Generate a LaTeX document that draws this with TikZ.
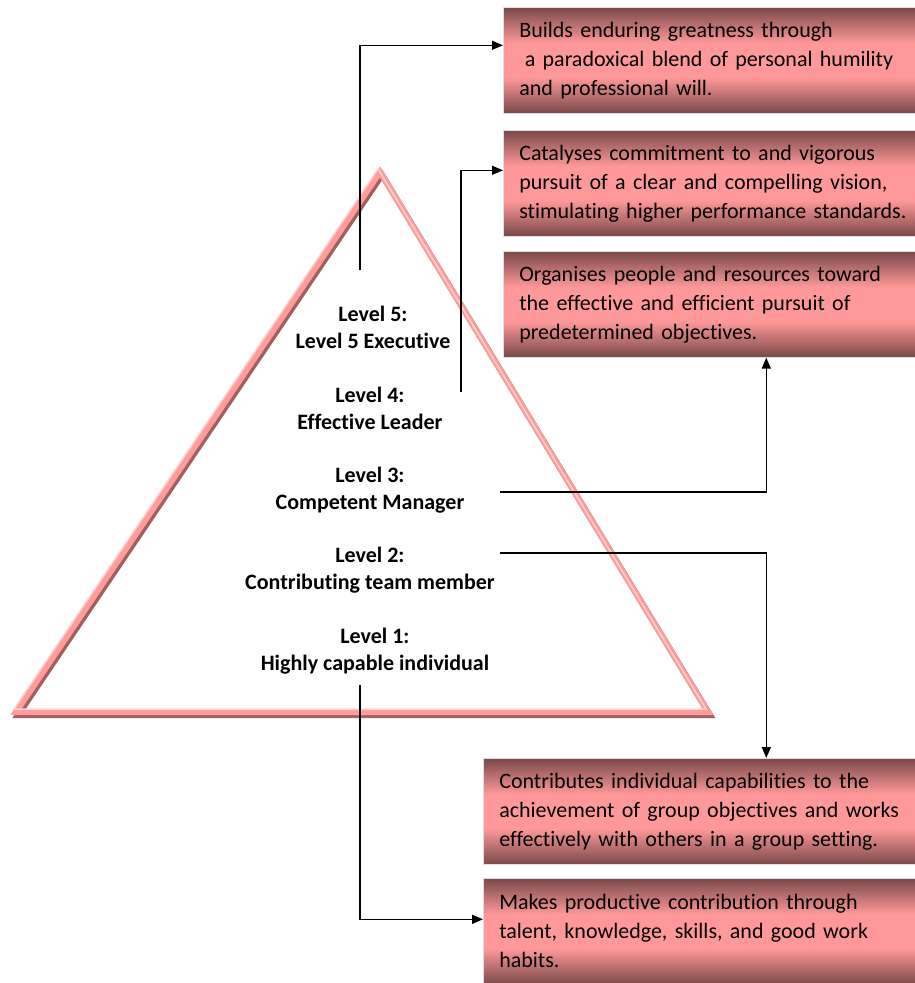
\documentclass[tikz,border=0pt]{standalone}
\usepackage{fontspec}
\setmainfont{Carlito}[Ligatures=NoCommon]
\usetikzlibrary{arrows.meta}
\definecolor{boxdark}{HTML}{7A4848}
\definecolor{boxpink}{HTML}{FF9999}
\definecolor{tripink}{HTML}{FF9C9C}
\definecolor{trishade}{HTML}{A35E5E}
\definecolor{trilight}{HTML}{FFD2D2}
\pgfdeclareverticalshading{descshade}{100bp}{color(0bp)=(boxdark); color(25bp)=(boxdark); color(42bp)=(boxpink); color(58bp)=(boxpink); color(75bp)=(boxdark); color(100bp)=(boxdark)}

\tikzset{
  desc/.style={shading=descshade, draw=gray!25, line width=0.6, minimum height=106,
    text width=400, inner xsep=16, inner ysep=0, align=left, anchor=north west,
    font=\fontsize{22}{29}\selectfont},
  lvl/.style={align=center, font=\fontsize{22}{27}\selectfont\bfseries},
  conn/.style={-{Triangle[length=11,width=9]}, line width=1.4}
}

\begin{document}
\begin{tikzpicture}[x=1pt,y=-1pt]
  \useasboundingbox (0,0) rectangle (915,983);

  % pyramid outline
  \draw[trishade, line width=6, line join=miter] (382,175) -- (710,715) -- (18,715) -- cycle;
  \draw[tripink, line width=6, line join=miter] (380,172) -- (708,712) -- (16,712) -- cycle;
  \draw[trilight, line width=1.5, line join=miter] (378,169) -- (706,709) -- (14,709) -- cycle;

  % level labels
  \node[lvl] (l5) at (373,327) {Level 5:\\Level 5 Executive};
  \node[lvl] (l4) at (370,408) {Level 4:\\Effective Leader};
  \node[lvl] (l3) at (370,490) {Level 3:\\Competent Manager};
  \node[lvl] (l2) at (370,570) {Level 2:\\Contributing team member};
  \node[lvl] (l1) at (375,651) {Level 1:\\Highly capable individual};

  % descriptions (right edge runs off the page)
  \node[desc] (d5) at (503,7)
    {Builds enduring greatness through\\\hspace*{0.25em}a paradoxical blend of personal humility\\and professional will.};
  \node[desc] (d4) at (503,130)
    {Catalyses commitment to and vigorous\\pursuit of a clear and compelling vision,\\stimulating higher performance standards.};
  \node[desc] (d3) at (503,251)
    {Organises people and resources toward\\the effective and efficient pursuit of\\predetermined objectives.};
  \node[desc] (d2) at (483,758)
    {Contributes individual capabilities to the\\achievement of group objectives and works\\effectively with others in a group setting.};
  \node[desc] (d1) at (483,878)
    {Makes productive contribution through\\talent, knowledge, skills, and good work\\habits.};

  % connectors
  \coordinate (s5) at (360,270);
  \coordinate (s4) at (461,392);
  \coordinate (s3) at (500,492);
  \coordinate (s2) at (500,553);
  \coordinate (s1) at (360,685);
  \draw[conn] (s5) |- ([yshift=15]d5.west);
  \draw[conn] (s4) |- ([yshift=13]d4.west);
  \draw[conn] (s3) -| ([xshift=47]d3.south);
  \draw[conn] (s2) -| ([xshift=67]d2.north);
  \draw[conn] (s1) |- ([yshift=12]d1.west);
\end{tikzpicture}
\end{document}
